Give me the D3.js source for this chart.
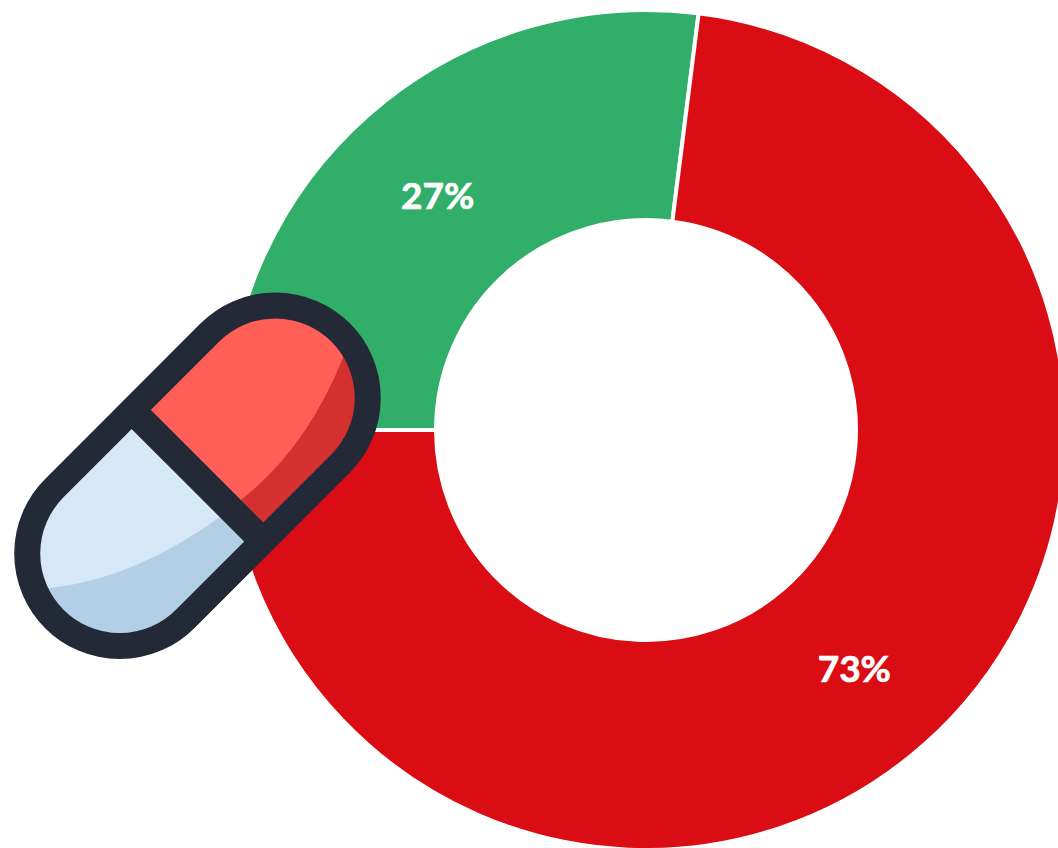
<!DOCTYPE html>
<html>
<head>
<meta charset="utf-8">
<script src="https://cdn.jsdelivr.net/npm/d3@7"></script>
<style>
html,body{margin:0;padding:0;background:#fff;overflow:hidden}
svg{display:block}
</style>
</head>
<body>
<svg id="chart" width="1058" height="848"></svg>
<script>
const categories = ["Green", "Red"];
const values = [27, 73];
const sliceColors = ["#31AE6A", "#D90D13"];

const svg = d3.select("#chart");
const cx = 646, cy = 430, outerR = 420, innerR = 210;

const pie = d3.pie().sort(null).startAngle(-Math.PI / 2).endAngle(1.5 * Math.PI);
const arc = d3.arc().innerRadius(innerR).outerRadius(outerR);
const color = d3.scaleOrdinal().domain(categories).range(sliceColors);
const total = d3.sum(values);
const arcs = pie(values);

const g = svg.append("g").attr("transform", `translate(${cx},${cy})`);
g.selectAll("path").data(arcs).join("path")
  .attr("d", arc)
  .attr("fill", (d, i) => color(categories[i]))
  .attr("stroke", "#fff")
  .attr("stroke-width", 4);
g.selectAll("text").data(arcs).join("text")
  .attr("transform", d => `translate(${arc.centroid(d)})`)
  .attr("text-anchor", "middle")
  .attr("dy", "0.42em")
  .attr("font-family", "Lato, sans-serif")
  .attr("font-weight", 700)
  .attr("font-size", 37)
  .attr("fill", "#fff")
  .attr("stroke", "#fff")
  .attr("stroke-width", 0.7)
  .text(d => Math.round(d.value / total * 100) + "%");

// Pill icon
const pillCx = 197.5, pillCy = 475.75;
const ink = "#232936";
const halfLen = 202.5, bodyR = 92.5;
const defs = svg.append("defs");
const pillTf = `translate(${pillCx},${pillCy}) rotate(-45)`;
defs.append("clipPath").attr("id", "pillClip")
  .append("rect").attr("transform", pillTf)
  .attr("x", -halfLen).attr("y", -bodyR).attr("width", 2 * halfLen).attr("height", 2 * bodyR).attr("rx", bodyR);

const body = svg.append("g").attr("clip-path", "url(#pillClip)");
body.append("rect").attr("transform", pillTf)
  .attr("x", 0).attr("y", -bodyR).attr("width", halfLen).attr("height", 2 * bodyR).attr("fill", "#FF5F57");
body.append("rect").attr("transform", pillTf)
  .attr("x", -halfLen).attr("y", -bodyR).attr("width", halfLen).attr("height", 2 * bodyR).attr("fill", "#D6E7F7");
body.append("path")
  .attr("d", "M346,352 L343,358 Q306,449 241,500 L236,504 L300,560 L420,400 Z")
  .attr("fill", "#D3302F");
body.append("path")
  .attr("d", "M44,589 L50,588 Q134,579 220,517 L224,514 L280,560 L130,700 L20,640 Z")
  .attr("fill", "#B3CFE5");

svg.append("rect").attr("transform", pillTf)
  .attr("x", -halfLen).attr("y", -bodyR).attr("width", 2 * halfLen).attr("height", 2 * bodyR).attr("rx", bodyR)
  .attr("fill", "none").attr("stroke", ink).attr("stroke-width", 26);
svg.append("line").attr("transform", pillTf)
  .attr("x1", 0).attr("x2", 0).attr("y1", -bodyR).attr("y2", bodyR)
  .attr("stroke", ink).attr("stroke-width", 27);
</script>
</body>
</html>
